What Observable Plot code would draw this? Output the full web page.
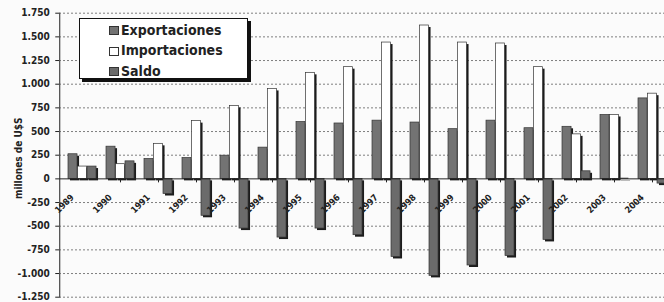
<!DOCTYPE html>
<html><head><meta charset="utf-8">
<script src="https://cdn.jsdelivr.net/npm/d3@7"></script>
<script src="https://cdn.jsdelivr.net/npm/@observablehq/plot@0.6"></script>
<style>
html,body{margin:0;padding:0;overflow:hidden;background:#fbfbfb;}
#wrap{position:relative;width:664px;height:302px;overflow:hidden;}
#chart svg{max-width:none !important;}
#legend{position:absolute;left:79px;top:18px;width:167px;height:59px;border:1.5px solid #111;background:#fff;box-shadow:3px 3px 0 #111;font-family:"DejaVu Sans Condensed","DejaVu Sans",sans-serif;font-weight:bold;font-size:14px;color:#222;}
#legend .row{position:absolute;left:0;height:20px;line-height:20px;white-space:nowrap;}
#legend .sw{position:absolute;left:29px;top:6.5px;width:8px;height:7px;border:1px solid #333;box-sizing:content-box;}
#legend .lb{position:absolute;left:41px;top:0;}
</style></head>
<body>
<div id="wrap"><div id="chart"></div><div id="legend"></div></div>
<script>
const years = ["1989","1990","1991","1992","1993","1994","1995","1996","1997","1998","1999","2000","2001","2002","2003","2004"];
const exportaciones = [260, 340, 210, 220, 245, 330, 600, 585, 615, 595, 525, 615, 535, 550, 675, 850];
const importaciones = [130, 155, 370, 610, 770, 950, 1120, 1180, 1440, 1620, 1440, 1430, 1180, 470, 675, 900];
const saldo = [130, 185, -160, -390, -525, -620, -525, -595, -825, -1025, -915, -815, -645, 80, 3, -50];
const seriesNames = ["Exportaciones", "Importaciones", "Saldo"];
const seriesColors = ["#737373", "#ffffff", "#6b6b6b"];
const yTicks = [-1250, -1000, -750, -500, -250, 0, 250, 500, 750, 1000, 1250, 1500, 1750];
const yLabel = "millones de U$S";

const fmt = d3.formatLocale({decimal: ",", thousands: ".", grouping: [3], currency: ["$", ""], minus: "-"}).format(",d");
const rows = (vals) => years.map((y, i) => ({year: y, value: vals[i]}));
const seriesData = [rows(exportaciones), rows(importaciones), rows(saldo)];
const bw = (674.5 - 59.25) / years.length;
const slots = [[5, 14.5], [14.5, 24], [24, 33.5]];

const barMarks = [];
seriesData.forEach((d, k) => {
  barMarks.push(Plot.barY(d, {x: "year", y1: () => 0, y2: "value", fill: "#1c1c1c",
    insetLeft: slots[k][0], insetRight: bw - slots[k][1], dx: 2, dy: 2}));
});
seriesData.forEach((d, k) => {
  barMarks.push(Plot.barY(d, {x: "year", y1: () => 0, y2: "value", fill: seriesColors[k],
    stroke: "#333", strokeWidth: 0.7,
    insetLeft: slots[k][0], insetRight: bw - slots[k][1]}));
});

const chart = Plot.plot({
  width: 680, height: 302,
  marginLeft: 59.25, marginRight: 5.5, marginTop: 12.7, marginBottom: 5.3,
  style: {background: "transparent", fontFamily: "'DejaVu Sans Condensed', 'DejaVu Sans', sans-serif", fontSize: "10px", fontWeight: "bold", color: "#222", overflow: "visible", maxWidth: "none"},
  x: {domain: years, axis: null, padding: 0},
  y: {domain: [-1250, 1750], ticks: yTicks, tickFormat: fmt, tickSize: 4, tickPadding: 6, line: true, label: null},
  marks: [
    Plot.ruleY(yTicks.filter(v => v !== 0), {stroke: "#555", strokeWidth: 1, strokeDasharray: "1.5,2.5"}),
    ...barMarks,
    Plot.ruleY([0], {stroke: "#222", strokeWidth: 1}),
    Plot.ruleX(years.slice(1), {x: d => d, y1: () => 0, y2: () => 0, insetBottom: -4, stroke: "#222"}),
    Plot.text(years, {x: d => d, y: () => 0, text: d => d, rotate: -45, textAnchor: "end", dx: -10, dy: 17, fontSize: 9}),
    Plot.text([yLabel], {frameAnchor: "left", text: d => d, rotate: -90, textAnchor: "middle", dx: -41, dy: 3, fontSize: 10})
  ]
});
document.getElementById("chart").appendChild(chart);

const leg = document.getElementById("legend");
seriesNames.forEach((n, k) => {
  const r = document.createElement("div");
  r.className = "row";
  r.style.top = (0.6 + k * 20.5) + "px";
  r.innerHTML = `<span class="sw" style="background:${seriesColors[k]}"></span><span class="lb">${n}</span>`;
  leg.appendChild(r);
});
</script>
</body></html>
